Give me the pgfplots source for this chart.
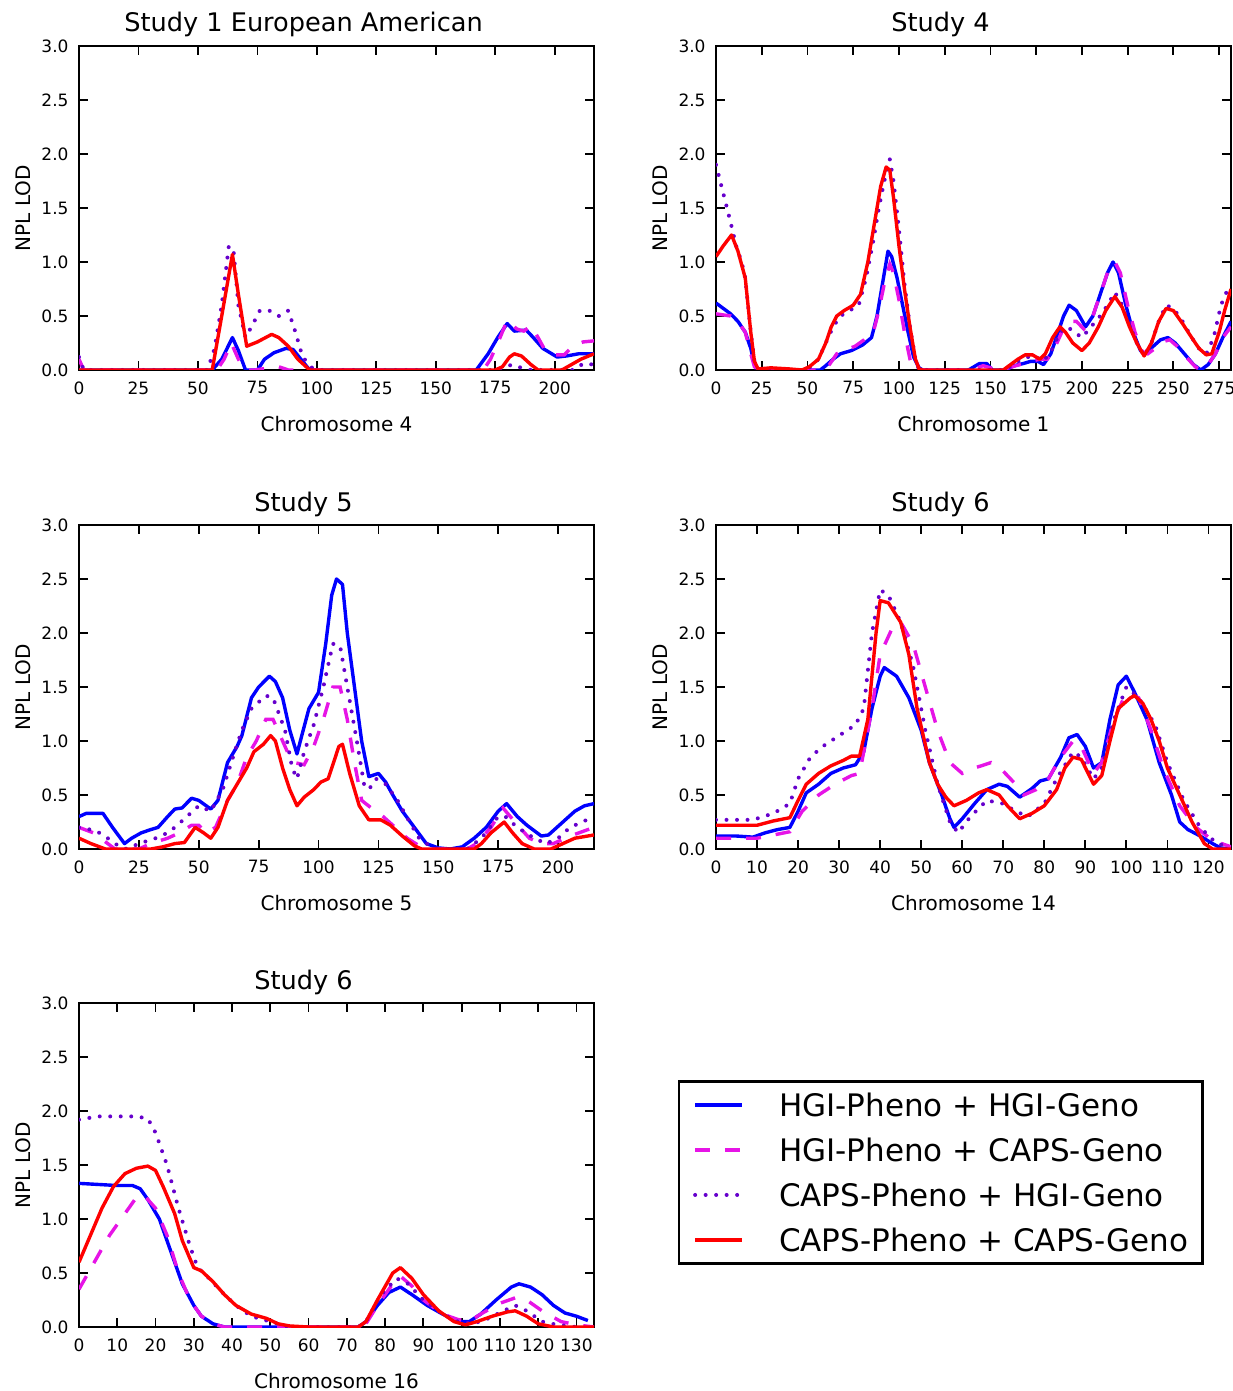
\documentclass[border=0pt]{standalone}
\usepackage{fontspec}
\setmainfont{DejaVu Sans}
\usepackage{pgfplots}
\pgfplotsset{compat=1.18}

\definecolor{hgimag}{RGB}{230,20,230}
\definecolor{capspurp}{RGB}{102,0,204}

\pgfplotsset{
  lodaxis/.style={
    scale only axis, width=257.5pt, height=162pt,
    anchor=north west,
    ymin=0, ymax=3, ytick={0,0.5,1,1.5,2,2.5,3},
    axis line style={line width=1.2pt},
    tick align=inside, major tick length=4.5pt,
    every tick/.style={black, line width=0.9pt},
    /pgf/number format/assume math mode=true,
    tick label style={font=\fontsize{8.5}{10}\selectfont},
    yticklabel style={/pgf/number format/.cd, fixed, fixed zerofill, precision=1, /tikz/.cd, xshift=-1.7pt},
    xticklabel style={yshift=-2.2pt},
    ylabel={NPL LOD},
    label style={font=\fontsize{10}{12}\selectfont},
    ylabel style={at={(axis description cs:-0.0951,0.5)}, anchor=base},
    xlabel style={at={(axis description cs:0.5,-0.1883)}, anchor=base},
    every axis title/.style={at={(axis description cs:0.436,1.0432)}, anchor=base, font=\fontsize{12.8}{15}\selectfont},
    clip=true,
  },
  hgihgi/.style={blue, line width=1.7pt, line join=round},
  hgicaps/.style={hgimag, line width=1.7pt, dash pattern=on 7.5pt off 7.5pt},
  capshgi/.style={capspurp, line width=2pt, line cap=round, dash pattern=on 0pt off 5.25pt},
  capscaps/.style={red, line width=1.7pt, line join=round},
}

\begin{document}
\begin{tikzpicture}

% Study 1, chromosome 4
\begin{axis}[lodaxis, at={(39.5pt,-23pt)}, xmin=0, xmax=216.5,
  xtick={0,25,...,200}, xlabel={Chromosome 4}, title={Study 1 European American}]
\addplot[hgihgi] coordinates {(0,0) (56,0) (60,0.1) (64.5,0.3) (67,0.18) (70,0) (75,0) (78,0.1) (82,0.16) (87,0.2) (90,0.19) (94,0.08) (97,0) (167,0) (172,0.15) (176,0.3) (180,0.43) (183,0.36) (188,0.37) (191,0.3) (195,0.2) (201,0.12) (205,0.13) (210,0.15) (216.5,0.15)};
\addplot[hgicaps] coordinates {(0,0.1) (2,0) (58,0) (61,0.1) (64,0.25) (67,0.1) (70,0) (74,0) (80,0.02) (84,0.03) (88,0) (170,0) (173,0.1) (177,0.3) (180,0.46) (184,0.38) (187,0.36) (190,0.41) (193,0.3) (196,0.18) (200,0.14) (204,0.14) (208,0.23) (212,0.26) (216.5,0.27)};
\addplot[capshgi] coordinates {(0,0.12) (2,0) (54,0) (57,0.2) (60,0.6) (63,1.15) (65,1.1) (67,0.6) (70,0.3) (73,0.42) (76,0.55) (80,0.55) (84,0.5) (88,0.55) (91,0.35) (94,0.12) (98,0.02) (102,0) (176,0) (182,0.05) (186,0.02) (190,0) (208,0) (212,0.06) (216.5,0.05)};
\addplot[capscaps] coordinates {(0,0) (56,0) (60,0.5) (64.5,1.07) (67,0.7) (70.5,0.22) (75,0.26) (81,0.33) (84,0.3) (88,0.22) (92,0.1) (97,0) (175,0) (178,0.03) (181,0.12) (183,0.15) (186,0.13) (190,0.05) (193,0) (203,0) (207,0.05) (211,0.1) (216.5,0.15)};
\end{axis}

% Study 4, chromosome 1
\begin{axis}[lodaxis, at={(358pt,-23pt)}, xmin=0, xmax=281.5,
  xtick={0,25,...,275}, xlabel={Chromosome 1}, title={Study 4}]
\addplot[hgihgi] coordinates {(0,0.62) (4,0.57) (8,0.52) (12,0.45) (16,0.35) (19,0.2) (21,0.05) (23,0) (57,0) (60,0.04) (64,0.1) (68,0.15) (74,0.18) (80,0.23) (85,0.3) (88,0.5) (91,0.8) (94,1.1) (96,1.05) (99,0.85) (102,0.6) (105,0.35) (108,0.12) (111,0.02) (113,0) (138,0) (144,0.06) (148,0.06) (151,0) (158,0) (163,0.04) (168,0.06) (172,0.08) (176,0.08) (179,0.05) (183,0.15) (187,0.35) (190,0.5) (193,0.6) (197,0.55) (202,0.4) (206,0.5) (210,0.7) (214,0.9) (217,1.0) (220,0.9) (224,0.6) (228,0.35) (232,0.18) (235,0.15) (239,0.22) (243,0.28) (247,0.3) (251,0.25) (256,0.15) (261,0.05) (265,0) (269,0.05) (273,0.15) (277,0.3) (281.5,0.45)};
\addplot[hgicaps] coordinates {(0,0.52) (4,0.51) (8,0.5) (12,0.45) (16,0.35) (19,0.15) (21,0.03) (23,0) (58,0) (62,0.05) (66,0.15) (70,0.18) (76,0.22) (81,0.28) (86,0.35) (89,0.55) (92,0.8) (95,0.98) (97,0.9) (100,0.65) (103,0.35) (106,0.1) (108,0) (140,0) (146,0.04) (150,0.02) (153,0) (160,0.02) (166,0.05) (172,0.08) (177,0.1) (181,0.1) (185,0.2) (189,0.35) (193,0.45) (197,0.45) (201,0.38) (206,0.5) (210,0.7) (214,0.9) (218,1.0) (221,0.9) (225,0.6) (229,0.35) (233,0.17) (236,0.15) (240,0.2) (244,0.26) (248,0.28) (252,0.22) (257,0.12) (262,0.03) (265,0) (269,0.05) (273,0.15) (277,0.3) (281.5,0.4)};
\addplot[capshgi] coordinates {(0,1.9) (3,1.7) (6,1.5) (8.5,1.33) (11,1.15) (14,1.0) (16,0.85) (19,0.35) (21,0.08) (23,0) (48,0) (52,0.03) (56,0.1) (60,0.25) (64,0.4) (68,0.5) (73,0.55) (78,0.6) (82,0.85) (86,1.2) (89,1.5) (92,1.75) (95,1.95) (97,1.75) (100,1.3) (103,0.8) (106,0.4) (109,0.1) (111,0) (158,0) (165,0.08) (170,0.12) (175,0.12) (179,0.08) (184,0.2) (188,0.35) (192,0.4) (196,0.35) (200,0.3) (205,0.4) (210,0.5) (214,0.6) (218,0.72) (222,0.6) (226,0.42) (230,0.25) (234,0.13) (238,0.25) (242,0.45) (246,0.6) (250,0.57) (255,0.45) (260,0.3) (264,0.2) (268,0.15) (272,0.3) (276,0.6) (279,0.72) (281.5,0.8)};
\addplot[capscaps] coordinates {(0,1.05) (4,1.15) (8.5,1.25) (12,1.1) (16,0.85) (19,0.35) (21,0.08) (23,0.01) (30,0.02) (40,0.01) (47,0) (51,0.03) (56,0.1) (60,0.25) (63,0.4) (66,0.5) (70,0.55) (75,0.6) (79,0.7) (83,1.0) (87,1.4) (90,1.7) (93,1.88) (95,1.85) (97,1.6) (100,1.15) (103,0.75) (106,0.4) (109,0.1) (111,0.01) (113,0) (157,0) (161,0.05) (165,0.1) (169,0.14) (173,0.14) (177,0.1) (180,0.15) (184,0.3) (188,0.4) (191,0.35) (195,0.25) (200,0.18) (204,0.25) (209,0.4) (213,0.55) (218,0.68) (222,0.58) (226,0.4) (230,0.25) (234,0.13) (238,0.25) (242,0.45) (246,0.57) (250,0.55) (255,0.43) (260,0.3) (264,0.2) (268,0.14) (271,0.15) (275,0.35) (278,0.55) (281.5,0.75)};
\end{axis}

% Study 5, chromosome 5
\begin{axis}[lodaxis, at={(39.5pt,-262.5pt)}, xmin=0, xmax=215,
  xtick={0,25,...,200}, xlabel={Chromosome 5}, title={Study 5}]
\addplot[hgihgi] coordinates {(0,0.3) (3,0.33) (10,0.33) (14,0.2) (19,0.05) (22,0.1) (26,0.15) (30,0.18) (33,0.2) (37,0.3) (40,0.37) (43,0.38) (47,0.47) (50,0.45) (55,0.37) (58,0.45) (62,0.8) (66,0.95) (68,1.05) (72,1.4) (75,1.5) (79.5,1.6) (82,1.55) (85,1.4) (88,1.1) (91,0.88) (93,1.05) (96,1.3) (100,1.45) (103,1.9) (105.5,2.35) (107.5,2.5) (110,2.45) (112,2.0) (115,1.5) (118,1.0) (121,0.67) (125,0.7) (128,0.62) (131,0.5) (135,0.35) (140,0.2) (145,0.05) (150,0.01) (155,0) (160,0.02) (165,0.1) (170,0.2) (175,0.35) (178.5,0.42) (183,0.3) (187,0.22) (193,0.12) (196,0.13) (202,0.25) (207,0.35) (211,0.4) (215,0.42)};
\addplot[hgicaps] coordinates {(0,0.2) (6,0.15) (12,0.05) (15,0) (25,0) (30,0.05) (37,0.1) (42,0.15) (47,0.22) (50,0.22) (53,0.15) (57,0.2) (62,0.45) (66,0.6) (70,0.85) (74,1.0) (78,1.2) (81,1.2) (85,1.0) (88,0.85) (90,0.8) (94,0.78) (98,0.95) (102,1.2) (106,1.5) (109,1.5) (112,1.2) (115,0.8) (118,0.45) (122,0.38) (127,0.3) (132,0.2) (137,0.1) (142,0.03) (147,0) (162,0) (166,0.05) (172,0.2) (177,0.38) (182,0.25) (188,0.1) (193,0.05) (198,0.05) (205,0.12) (215,0.2)};
\addplot[capshgi] coordinates {(0,0.2) (7,0.17) (12,0.1) (17,0.02) (20,0) (25,0.05) (32,0.1) (37,0.15) (40,0.2) (45,0.3) (50,0.4) (55,0.35) (60,0.55) (65,0.9) (68,1.1) (72,1.3) (78,1.42) (81,1.4) (86,1.1) (89,0.75) (91,0.65) (94,0.9) (98,1.15) (102,1.5) (106,1.9) (109,1.88) (112,1.5) (116,1.0) (119,0.6) (121,0.55) (124,0.65) (128,0.6) (133,0.45) (138,0.25) (142,0.1) (147,0.02) (150,0) (162,0) (168,0.1) (175,0.3) (178,0.3) (183,0.2) (190,0.1) (195,0.05) (200,0.1) (205,0.2) (215,0.3)};
\addplot[capscaps] coordinates {(0,0.1) (5,0.05) (11,0) (30,0) (35,0.02) (40,0.05) (44,0.06) (48.5,0.2) (52,0.15) (55,0.1) (58,0.2) (62,0.45) (66,0.6) (70,0.75) (73,0.9) (77,0.97) (80,1.05) (82,1.0) (85,0.75) (88,0.55) (91,0.4) (94,0.48) (98,0.55) (101,0.62) (104,0.65) (108.5,0.95) (110,0.97) (113,0.7) (117,0.4) (121,0.27) (126,0.27) (130,0.22) (135,0.12) (140,0.03) (143,0) (165,0) (168,0.05) (172,0.15) (177.5,0.25) (181,0.15) (185,0.05) (190,0) (197,0) (202,0.05) (207,0.1) (215,0.13)};
\end{axis}

% Study 6, chromosome 14
\begin{axis}[lodaxis, at={(358pt,-262.5pt)}, xmin=0, xmax=125.5,
  xtick={0,10,...,120}, xlabel={Chromosome 14}, title={Study 6}]
\addplot[hgihgi] coordinates {(0,0.12) (5,0.12) (9,0.11) (12,0.15) (15,0.18) (18,0.2) (20,0.35) (22,0.52) (25,0.6) (28,0.7) (31,0.75) (34,0.78) (36,0.9) (38,1.3) (40,1.6) (41,1.68) (44,1.6) (47,1.4) (50,1.1) (52,0.8) (55,0.5) (57,0.28) (58,0.2) (60,0.28) (63,0.42) (66,0.55) (69,0.6) (71,0.58) (74,0.48) (77,0.56) (79,0.63) (81,0.65) (84,0.85) (86,1.03) (88,1.06) (90,0.95) (92,0.75) (94,0.8) (96,1.2) (98,1.52) (100,1.6) (102,1.45) (105,1.2) (108,0.8) (111,0.5) (113,0.25) (115,0.18) (118,0.12) (121,0.05) (123,0.01) (125.5,0)};
\addplot[hgicaps] coordinates {(0,0.1) (10,0.1) (14,0.13) (18,0.16) (21,0.35) (25,0.5) (29,0.6) (33,0.68) (35,0.7) (38,1.3) (40,1.8) (43,2.05) (45,2.1) (48,1.9) (51,1.5) (54,1.1) (57,0.8) (60,0.7) (63,0.75) (67,0.8) (70,0.72) (73,0.6) (75,0.5) (78,0.55) (81,0.65) (84,0.85) (87,1.0) (89,0.95) (92,0.7) (94,0.8) (97,1.2) (100,1.45) (103,1.4) (106,1.1) (109,0.75) (113,0.4) (117,0.2) (121,0.08) (125.5,0.02)};
\addplot[capshgi] coordinates {(0,0.27) (9,0.27) (14,0.33) (18,0.42) (20,0.65) (23,0.85) (26,0.95) (30,1.05) (34,1.15) (36,1.3) (38,2.0) (40,2.4) (42,2.35) (45,2.1) (48,1.7) (51,1.1) (54,0.6) (57,0.25) (59,0.15) (62,0.3) (66,0.45) (70,0.42) (73,0.35) (76,0.3) (80,0.42) (83,0.65) (87,0.9) (89,0.85) (92,0.65) (94,0.75) (97,1.2) (100,1.5) (103,1.4) (107,1.15) (110,0.8) (114,0.45) (118,0.2) (122,0.05) (125.5,0.02)};
\addplot[capscaps] coordinates {(0,0.22) (10,0.22) (14,0.26) (18,0.29) (20,0.45) (22,0.6) (25,0.7) (28,0.77) (31,0.82) (33,0.86) (35,0.86) (37,1.2) (39,2.0) (40,2.3) (42,2.28) (45,2.1) (47,1.8) (49,1.3) (52,0.8) (54,0.6) (56,0.48) (58,0.4) (61,0.45) (64,0.52) (66,0.55) (69,0.5) (71,0.4) (74,0.28) (77,0.33) (80,0.4) (83,0.55) (85,0.75) (87,0.85) (89,0.83) (92,0.6) (94,0.68) (96,1.0) (98,1.3) (101,1.4) (102,1.42) (104,1.35) (106,1.2) (108,1.0) (110,0.75) (113,0.5) (116,0.25) (119,0.05) (121,0) (125.5,0)};
\end{axis}

% Study 6, chromosome 16, with the legend
\begin{axis}[lodaxis, at={(39.5pt,-501.5pt)}, xmin=0, xmax=134.6,
  xtick={0,10,...,130}, xlabel={Chromosome 16}, title={Study 6},
  legend style={at={(axis description cs:1.163,0.7616)}, anchor=north west,
    draw=black, line width=1.2pt, inner xsep=7pt, inner ysep=6pt,
    font=\fontsize{15.5}{18}\selectfont,
    nodes={inner sep=0pt, text height=11.5pt, text depth=0pt},
    row sep=11pt, cells={anchor=west},
    /tikz/every odd column/.append style={column sep=17.5pt}},
  legend image code/.code={\draw[#1] (0pt,0pt) -- (23.5pt,0pt);}]
\addplot[hgihgi] coordinates {(0,1.33) (5,1.32) (10,1.31) (14,1.31) (16,1.28) (18,1.18) (21,1.0) (24,0.7) (27,0.4) (30,0.2) (32,0.1) (35,0.03) (38,0) (73,0) (75,0.05) (78,0.2) (81,0.32) (84,0.37) (87,0.3) (91,0.2) (95,0.12) (99,0.05) (102,0.05) (105,0.12) (109,0.25) (113,0.37) (115,0.4) (118,0.37) (121,0.3) (124,0.2) (127,0.13) (130,0.1) (133,0.06)};
\addplot[hgicaps] coordinates {(0,0.35) (4,0.6) (8,0.85) (12,1.05) (15,1.2) (17,1.22) (20,1.1) (23,0.85) (26,0.5) (29,0.25) (32,0.1) (36,0.02) (38,0) (73,0) (75,0.03) (78,0.2) (82,0.4) (84,0.47) (87,0.38) (90,0.25) (95,0.12) (99,0.07) (102,0.05) (105,0.12) (110,0.22) (114,0.27) (117,0.25) (121,0.15) (126,0.05) (130,0.02) (134.6,0)};
\addplot[capshgi] coordinates {(0,1.92) (5,1.95) (10,1.95) (15,1.95) (18,1.93) (20,1.8) (23,1.5) (26,1.1) (29,0.75) (31,0.55) (34,0.45) (38,0.3) (41,0.2) (45,0.1) (50,0.05) (55,0) (73,0) (75,0.05) (79,0.3) (83,0.45) (86,0.4) (90,0.25) (95,0.12) (99,0.05) (103,0.03) (107,0.08) (111,0.15) (114,0.2) (117,0.15) (121,0.05) (125,0.02) (130,0)};
\addplot[capscaps] coordinates {(0,0.6) (3,0.85) (6,1.1) (9,1.3) (12,1.42) (15,1.47) (18,1.49) (20,1.45) (22,1.3) (25,1.05) (27,0.8) (30,0.55) (32,0.52) (35,0.42) (38,0.3) (41,0.2) (45,0.12) (49,0.08) (52,0.03) (55,0.01) (60,0) (73,0) (75,0.05) (78,0.25) (82,0.5) (84,0.55) (87,0.45) (90,0.3) (94,0.15) (98,0.05) (101,0.02) (104,0.05) (108,0.1) (112,0.14) (114,0.15) (117,0.1) (120,0.03) (124,0) (134.6,0)};
\legend{HGI-Pheno + HGI-Geno, HGI-Pheno + CAPS-Geno, CAPS-Pheno + HGI-Geno, CAPS-Pheno + CAPS-Geno}
\end{axis}

\pgfresetboundingbox
\useasboundingbox (0pt,0pt) rectangle (616pt,-695.5pt);
\end{tikzpicture}
\end{document}
